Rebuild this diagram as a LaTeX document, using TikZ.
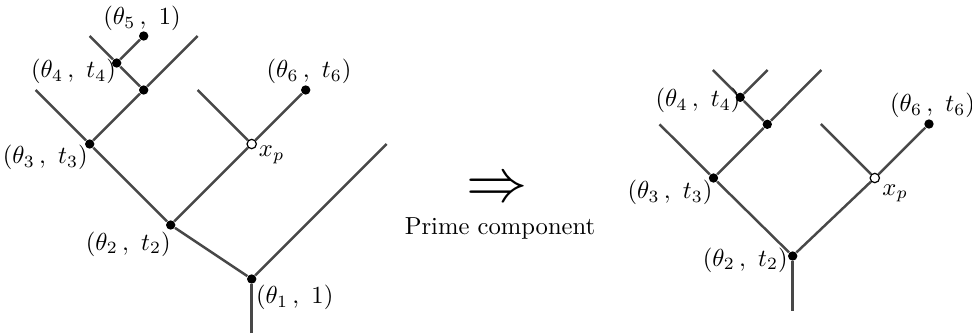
\documentclass[tikz,border=0pt]{standalone}
\usepackage{amsmath}
\begin{document}
\begin{tikzpicture}[x=0.4065pt,y=-0.4065pt]
\definecolor{edgegray}{RGB}{72,72,72}
\tikzset{
  edge/.style={line width=1pt, draw=edgegray},
  dot/.style={circle, fill=black, inner sep=0pt, minimum size=3.8pt},
  odot/.style={circle, fill=white, draw=black, line width=0.5pt, inner sep=0pt, minimum size=3.8pt},
  lbl/.style={inner sep=0pt}
}
\useasboundingbox (0,0) rectangle (972,335);
% ---------- left tree ----------
\node[dot] (a1) at (251.7,279) {};
\node[dot] (a2) at (170.7,225) {};
\node[dot] (a3) at (89.7,144) {};
\node[odot] (axp) at (251.7,144) {};
\node[dot] (a6) at (305.7,90) {};
\node[dot] (aA) at (143.7,90) {};
\node[dot] (a4) at (116.7,63) {};
\node[dot] (a5) at (143.7,36) {};
\coordinate (a1b) at (251.7,333);
\coordinate (a1r) at (386.7,144);
\coordinate (a3l) at (35.7,90);
\coordinate (axl) at (197.7,90);
\coordinate (aAr) at (197.7,36);
\coordinate (a4l) at (89.7,36);
\draw[edge] (a1b) -- (a1);
\draw[edge] (a1) -- (a1r);
\draw[edge] (a1) -- (a2);
\draw[edge] (a2) -- (a3);
\draw[edge] (a2) -- (axp);
\draw[edge] (a3) -- (a3l);
\draw[edge] (a3) -- (aA);
\draw[edge] (axp) -- (axl);
\draw[edge] (axp) -- (a6);
\draw[edge] (aA) -- (aAr);
\draw[edge] (aA) -- (a4);
\draw[edge] (a4) -- (a4l);
\draw[edge] (a4) -- (a5);
\node[lbl] (la5) at (142,18.5) {$(\theta_5\,,\ 1)$};
\node[lbl] (la4) at (73.5,71.5) {$(\theta_4\,,\ t_4)$};
\node[lbl] (la6) at (309,71.5) {$(\theta_6\,,\ t_6)$};
\node[lbl] (la3) at (45.3,157.5) {$(\theta_3\,,\ t_3)$};
\node[lbl,anchor=base west] (lax) at (258.5,156.7) {$x_p$};
\node[lbl] (la2) at (128.3,244) {$(\theta_2\,,\ t_2)$};
\node[lbl] (la1) at (294.7,297.5) {$(\theta_1\,,\ 1)$};
% ---------- arrow ----------
\node[lbl] (arr) at (497.5,190.5) {\Huge$\Rightarrow$};
\node[lbl] (pc) at (500,228) {Prime component};
% ---------- right tree ----------
\node[dot] (b2) at (792.7,256) {};
\node[dot] (b3) at (713.5,178) {};
\node[dot] (bB) at (767.3,124.3) {};
\node[dot] (b4) at (740.2,97.3) {};
\node[odot] (bxp) at (874.8,178) {};
\node[dot] (b6) at (929,124) {};
\coordinate (b2b) at (792.7,310.7);
\coordinate (b3l) at (659.5,124.3);
\coordinate (bBr) at (821.3,70);
\coordinate (b4l) at (712.9,70);
\coordinate (b4r) at (767.7,70);
\coordinate (bxl) at (820.8,124);
\draw[edge] (b2b) -- (b2);
\draw[edge] (b2) -- (b3);
\draw[edge] (b2) -- (bxp);
\draw[edge] (b3) -- (b3l);
\draw[edge] (b3) -- (bB);
\draw[edge] (bB) -- (bBr);
\draw[edge] (bB) -- (b4);
\draw[edge] (b4) -- (b4l);
\draw[edge] (b4) -- (b4r);
\draw[edge] (bxp) -- (bxl);
\draw[edge] (bxp) -- (b6);
\node[lbl] (lb4) at (698,100.8) {$(\theta_4\,,\ t_4)$};
\node[lbl] (lb6) at (932.5,105.8) {$(\theta_6\,,\ t_6)$};
\node[lbl] (lb3) at (670,192.5) {$(\theta_3\,,\ t_3)$};
\node[lbl,anchor=base west] (lbx) at (882,195) {$x_p$};
\node[lbl] (lb2) at (745.3,260) {$(\theta_2\,,\ t_2)$};
\end{tikzpicture}
\end{document}
